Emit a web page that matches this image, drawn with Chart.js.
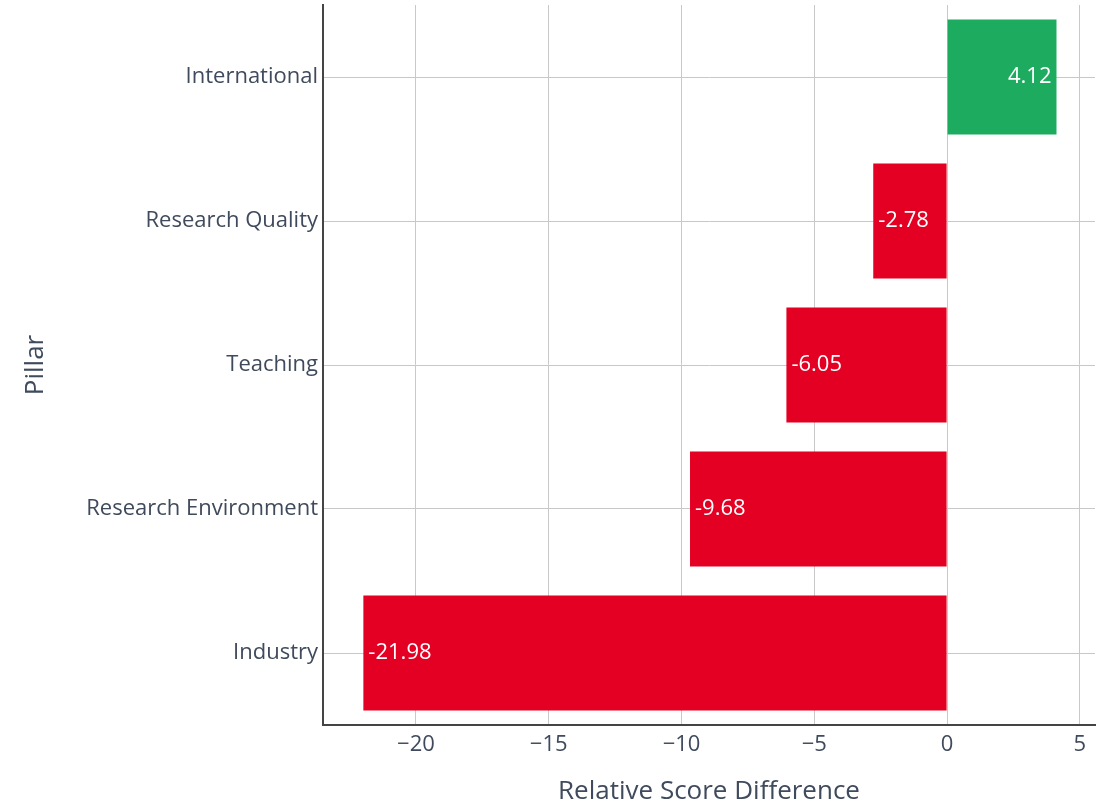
<!DOCTYPE html>
<html>
<head>
<meta charset="utf-8">
<script src="https://cdn.jsdelivr.net/npm/chart.js@4"></script>
<style>
    html, body { margin: 0; padding: 0; background: #fff; }
    #wrap { width: 1107px; height: 804px; }
</style>
</head>
<body>
<div id="wrap"><canvas id="pillarChart" width="1107" height="804"></canvas></div>
<script>
// data
const pillars = ['International', 'Research Quality', 'Teaching', 'Research Environment', 'Industry'];
const scoreDiff = [4.12, -2.78, -6.05, -9.68, -21.98];
const xTicks = [-20, -15, -10, -5, 0, 5];

const GREEN = '#1dab5f';
const RED = '#e30022';
const TEXT = '#3f4a5c';

// value labels inside the bar end
const barLabels = {
    id: 'barLabels',
    afterDatasetsDraw(chart) {
        const ctx = chart.ctx;
        const meta = chart.getDatasetMeta(0);
        ctx.save();
        ctx.font = '22px "Open Sans"';
        ctx.fillStyle = '#ffffff';
        ctx.textBaseline = 'middle';
        meta.data.forEach((bar, i) => {
            const v = scoreDiff[i];
            if (v >= 0) {
                ctx.textAlign = 'right';
                ctx.fillText(v.toFixed(2), bar.x - 5, bar.y);
            } else {
                ctx.textAlign = 'left';
                ctx.fillText(v.toFixed(2), bar.x + 5, bar.y);
            }
        });
        ctx.restore();
    }
};

const ctx = document.getElementById('pillarChart').getContext('2d');
new Chart(ctx, {
    type: 'bar',
    data: {
        labels: pillars,
        datasets: [{
            data: scoreDiff,
            backgroundColor: scoreDiff.map(v => v >= 0 ? GREEN : RED),
            borderWidth: 0,
            barPercentage: 0.8,
            categoryPercentage: 1
        }]
    },
    options: {
        indexAxis: 'y',
        responsive: false,
        animation: false,
        layout: { padding: { top: 5, right: 12, left: 0, bottom: 0 } },
        plugins: {
            legend: { display: false },
            tooltip: { enabled: false }
        },
        scales: {
            x: {
                min: -23.5,
                max: 5.57,
                afterBuildTicks: axis => { axis.ticks = xTicks.map(v => ({ value: v })); },
                afterFit: axis => { axis.height = 79; },
                grid: { color: '#c8c8c8', lineWidth: 1, drawTicks: false },
                border: { display: true, color: '#444', width: 2 },
                ticks: {
                    color: TEXT,
                    padding: 7,
                    font: { family: 'Open Sans', size: 22 },
                    callback: v => String(v).replace('-', '\u2212')
                },
                title: {
                    display: true,
                    text: 'Relative Score Difference',
                    color: TEXT,
                    font: { family: 'Open Sans', size: 26 },
                    padding: { top: 0, bottom: -3 }
                }
            },
            y: {
                afterFit: axis => {
                    axis.width = 323;
                    axis.paddingTop = 0;
                    axis.paddingBottom = 0;
                },
                grid: { color: '#c8c8c8', lineWidth: 1, drawTicks: false, offset: false },
                border: { display: true, color: '#444', width: 2 },
                ticks: {
                    color: TEXT,
                    padding: 5,
                    font: { family: 'Open Sans', size: 22 }
                },
                title: {
                    display: true,
                    text: 'Pillar',
                    color: TEXT,
                    font: { family: 'Open Sans', size: 26 },
                    padding: { top: 20, bottom: 0 }
                }
            }
        }
    },
    plugins: [barLabels]
});
</script>
</body>
</html>
